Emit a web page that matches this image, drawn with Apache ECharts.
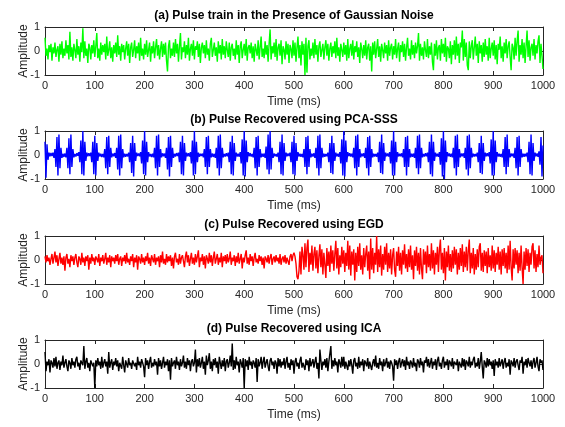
<!DOCTYPE html>
<html><head><meta charset="utf-8">
<script src="https://cdn.jsdelivr.net/npm/echarts/dist/echarts.min.js"></script>
<style>html,body{margin:0;padding:0;background:#fff}#c{width:565px;height:427px}</style>
</head><body><div id="c"></div>
<script>
// Panel titles
const panelTitles = [
  '(a) Pulse train in the Presence of Gaussian Noise',
  '(b) Pulse Recovered using PCA-SSS',
  '(c) Pulse Recovered using EGD',
  '(d) Pulse Recovered using ICA'
];
const xAxisName = 'Time (ms)';
const yAxisName = 'Amplitude';
const sampleStepMs = 2; // one value every 2 ms, 0..1000 ms

// (a) noisy pulse train (green)
const noisySignal = [
.55,-.2,.1,-.35,.25,-.05,.3,-.4,.15,-.1,
.35,-.25,.05,.2,-.45,.3,-.15,.4,-.3,.1,
-.2,.45,-.1,.25,-.35,.8,-.25,.15,-.4,.3,
.05,-.3,.5,-.15,.2,-.45,.35,-.05,.95,-.3,
.4,-.2,.1,-.5,.3,.15,-.35,.25,-.1,.45,
-.25,.2,.75,-.3,.1,-.4,.35,-.15,.25,-.05,
.3,-.35,.6,-.2,.05,.4,-.3,.15,-.45,.25,
-.1,.35,-.25,.65,-.15,.2,-.4,.3,-.05,.25,
-.35,.1,.4,-.2,.3,-.5,.15,.35,-.25,.05,
.45,-.3,.2,-.1,.35,-.4,.55,-.2,.1,-.35,
.3,-.15,.45,-.25,.05,.35,-.45,.2,-.1,.4,
-.3,.15,.5,-.2,.25,-.35,.1,.4,-.25,.3,
-.15,.35,-.4,-.85,.2,.45,-.3,.1,-.2,.35,
-.25,.5,-.1,.3,-.45,.2,.75,-.35,.15,-.05,
.4,-.3,.25,-.15,.55,-.4,.1,.3,-.2,.45,
-.35,.2,.05,.4,-.25,.3,-.5,.15,.35,-.1,
.25,-.3,.45,-.15,.1,-.4,.3,.55,-.25,.05,
.35,-.2,.15,-.45,.4,-.1,.25,-.35,.5,-.15,
.2,-.3,.4,.05,-.25,.35,-.4,.15,.3,-.2,
.1,-.35,.45,-.15,.25,-.5,.2,.4,-.3,.05,
.3,-.2,.5,-.4,.15,.25,-.1,.35,-.3,.2,
-.45,.3,.05,-.2,.45,-.35,.15,.6,-.25,.1,
-.3,.4,-.15,.25,-.45,.3,.9,-.35,.2,-.1,
.35,-.25,.5,-.4,.15,.3,-.2,.45,-.55,.2,
.05,-.35,.4,-.15,.3,-.5,.25,.1,-.3,.45,
-.2,.35,-.45,.15,.6,-.3,.25,-.6,.4,-.15,
.3,-1,.55,-.9,.2,.45,-.35,.1,-.2,.35,
-.3,.5,-.15,.25,-.45,.2,.4,-.25,.05,.3,
-.35,.15,.45,-.2,.3,-.4,.1,.35,-.25,.2,
-.1,.4,-.3,.55,-.2,.15,-.45,.3,.05,-.25,
.35,-.15,.25,-.4,.5,-.3,.1,.3,-.2,.45,
-.35,.2,-.05,.4,-.25,.15,-.5,.35,.1,-.3,
.25,-.2,.45,-.35,.15,.3,-.4,.2,-.85,.35,
-.15,.4,-.3,.1,.5,-.25,.2,-.45,.3,.05,
-.3,.35,-.1,.25,-.4,.45,-.2,.15,.3,-.35,
.2,-.15,.5,-.3,.1,.35,-.45,.25,-.05,.4,
-.25,.3,-.4,.15,.55,-.2,.1,-.35,.45,-.15,
.25,-.3,.35,-.1,.2,.75,-.4,.3,-.2,.15,
-.35,.4,.05,-.25,.5,-.3,.2,-.15,.35,-.45,
-.8,.3,-.2,.45,-.35,.15,.25,-.4,.5,-.1,
.3,-.25,.55,-.45,.2,.1,-.3,.4,-.55,.25,
-.15,.45,-.35,.6,-.2,.3,-.5,.35,.15,.85,
-.4,.5,-.25,.35,-.6,-.8,.4,-.3,.2,.45,
-.35,.15,.6,-.2,.3,-.5,.4,-.1,.25,-.45,
.35,-.25,.5,-.15,.2,-.4,.55,-.3,.1,.35,
-.2,.45,-.35,.25,-.55,.3,.05,.6,-.3,.2,
-.45,.35,-.1,.5,-.3,.2,.4,-.25,-.8,.3,
.15,-.35,.55,-.2,.4,.85,-.45,.25,-.15,.5,
-.3,.35,-.5,.2,.85,-.25,.45,-.4,.15,.3,
-.2,.5,-.35,.25,-.1,.4,.65,-.5,.3,-.2,
-.75
];

// (b) PCA-SSS recovered pulses (blue)
const pcaSignal = [
.55,-.95,.45,-.2,.1,-.05,.08,-.04,.1,-.12,
.25,-.5,.75,-.85,.85,-.55,.3,-.12,.05,-.08,
.06,-.1,.3,-.55,.7,-.8,.85,-.5,.25,-.1,
.04,-.06,.08,-.03,.12,-.3,.6,-.8,1,-.85,
.55,-.25,.1,-.05,.07,-.04,.1,-.3,.55,-.8,
.8,-.85,.5,-.25,.1,-.06,.05,-.08,.04,-.1,
.25,-.55,.75,-.8,.8,-.5,.3,-.1,.06,-.05,
.08,-.12,.3,-.6,.8,-.85,.85,-.55,.25,-.1,
.05,-.07,.04,-.06,.1,-.3,.5,-.75,.8,-.9,
.5,-.25,.1,-.04,.06,-.05,.12,-.35,.6,-.8,
1,-.85,.55,-.3,.12,-.06,.04,-.08,.05,-.1,
.3,-.55,.8,-.85,.85,-.5,.25,-.1,.07,-.05,
.06,-.12,.3,-.6,.75,-.9,.8,-.5,.3,-.12,
.05,-.06,.08,-.04,.1,-.3,.55,-.8,.8,-.85,
.5,-.25,.1,-.05,.07,-.06,.12,-.35,.6,-.85,
1,-.8,.55,-.3,.1,-.07,.05,-.04,.06,-.1,
.25,-.5,.75,-.8,.8,-.5,.25,-.1,.06,-.08,
.05,-.12,.3,-.55,.8,-.85,.85,-.55,.3,-.1,
.04,-.06,.07,-.05,.1,-.3,.55,-.8,.8,-.85,
.5,-.25,.1,-.06,.05,-.07,.12,-.35,.65,-.85,
1,-.9,.6,-.3,.12,-.05,.08,-.06,.04,-.1,
.3,-.55,.75,-.85,.8,-.5,.25,-.1,.05,-.07,
.06,-.12,.35,-.6,.85,-.8,1,-.6,.3,-.12,
.06,-.05,.04,-.07,.1,-.3,.55,-.8,.85,-.85,
.5,-.25,.1,-.05,.06,-.04,.1,-.3,.55,-.8,
.8,-.85,.5,-.25,.12,-.06,.05,-.07,.04,-.1,
.25,-.5,.75,-.8,.8,-.5,.25,-.1,.05,-.06,
.07,-.12,.3,-.55,.8,-.85,.85,-.55,.3,-.1,
.05,-.07,.04,-.05,.1,-.3,.5,-.75,.8,-.8,
.5,-.25,.1,-.06,.05,-.07,.12,-.35,.65,-.85,
1,-.9,.6,-.3,.12,-.05,.07,-.06,.05,-.1,
.3,-.55,.8,-.85,.85,-.5,.25,-.1,.06,-.05,
.07,-.12,.3,-.55,.75,-.85,.8,-.5,.25,-.1,
.05,-.06,.04,-.07,.1,-.3,.55,-.75,.85,-.8,
.5,-.25,.1,-.05,.06,-.06,.12,-.35,.6,-.85,
1,-.85,.55,-.3,.12,-.06,.05,-.05,.07,-.1,
.25,-.5,.75,-.85,.8,-.5,.25,-.1,.05,-.07,
.06,-.12,.3,-.55,.8,-.8,.85,-.55,.3,-.1,
.04,-.06,.07,-.05,.1,-.3,.55,-.8,.85,-.9,
.55,-.25,.1,-.06,.05,-.07,.12,-.4,.7,-.9,
1,-1,.6,-.3,.12,-.05,.06,-.07,.05,-.1,
.3,-.55,.8,-.85,.85,-.5,.25,-.1,.06,-.05,
.07,-.12,.3,-.6,.8,-.85,.85,-.55,.3,-.1,
.05,-.06,.04,-.06,.1,-.3,.5,-.75,.8,-.8,
.5,-.25,.1,-.05,.07,-.05,.12,-.35,.65,-.85,
1,-.85,.6,-.3,.12,-.06,.05,-.07,.04,-.1,
.25,-.5,.75,-.8,.85,-.5,.25,-.1,.06,-.05,
.06,-.12,.3,-.55,.75,-.85,.8,-.5,.25,-.1,
.05,-.07,.05,-.06,.1,-.3,.55,-.8,.85,-.85,
.5,-.25,.1,-.05,.06,-.07,.15,-.4,.75,-.9,
.4
];

// (c) EGD recovered signal (red)
const egdSignal = [
.15,-.1,.2,-.05,.1,-.2,.05,.25,-.15,.1,
.35,-.1,.2,-.25,.05,.3,-.15,.1,-.2,.15,
-.45,.1,.25,-.15,.05,-.3,.2,-.05,.15,-.2,
.1,.25,-.1,-.3,.15,.05,-.2,.3,-.1,.1,
-.25,.15,-.05,.2,-.4,.1,-.15,.25,-.05,.1,
-.2,.15,.05,-.1,.25,-.25,.1,-.05,.2,-.15,
.05,.3,-.2,.1,-.1,.2,-.3,.15,-.05,.1,
-.15,.2,-.05,.25,-.2,.05,.15,-.25,.1,-.05,
.2,-.15,.3,-.1,.05,-.2,.15,-.05,.25,-.3,
.1,-.1,.2,-.4,.15,.05,-.15,.25,-.1,.1,
-.2,.15,-.05,.3,-.15,.1,-.25,.2,.05,-.1,
.25,-.2,.1,-.05,.15,-.3,.2,-.1,.35,-.15,
.05,-.2,.25,-.1,.15,-.05,.2,-.25,.1,-.35,
.15,.3,-.1,.05,-.2,.25,-.15,.1,.2,-.05,
-.3,.15,.35,-.1,.2,-.25,.05,.3,-.15,.1,
-.2,.25,-.1,.15,.4,-.3,.1,-.05,.25,-.2,
.15,-.35,.2,.05,-.15,.3,-.1,.2,-.25,.1,
.35,-.15,.05,.25,-.2,.1,-.1,.3,-.3,.15,
-.05,.2,-.15,.25,-.1,.05,.35,-.2,.1,-.05,
.2,-.25,.15,-.1,.3,-.15,.05,.25,-.35,.1,
-.1,.2,.4,-.15,.1,-.2,.25,-.05,.15,-.25,
.1,.3,-.1,.05,-.15,.2,-.05,.15,-.2,.1,
-.35,.15,.05,-.1,.2,-.15,.1,.25,-.2,.05,
.15,-.1,.2,-.05,.1,-.15,.25,-.2,.05,.15,
-.1,.2,-.15,.1,.05,-.2,.15,.25,-.05,.2,
.3,.15,-.15,-.7,-.8,-.45,.35,-.6,.55,.2,
-.4,.7,-.3,.5,.85,-.5,.3,-.2,.6,-.45,
.25,.55,-.35,.4,-.55,.15,.65,-.3,.45,-.6,
.3,-.2,-.75,.5,-.25,.35,-.5,.6,-.15,.4,
-.45,.25,.8,-.35,.5,-.6,.2,-.3,.55,-.15,
.4,-.5,.3,-.25,.8,-.4,.6,-.65,.35,-.2,
.45,-.85,.3,-.5,.55,-.25,.7,-.4,.2,-.6,
.5,-.3,.25,.6,-.45,.35,-.8,.9,-.4,.5,
-.55,.3,-.2,1,-.5,.45,-.3,.6,-.65,.25,
-.4,.55,-.2,.7,-.5,.3,-.35,.45,-.6,.2,
.5,-.4,-.7,.35,-.25,.55,-.45,.3,-.6,.4,
-.2,.65,-.35,.25,-.5,.45,-.3,.6,-.4,.2,
-.8,.4,-.25,.55,-.45,.3,-.6,.5,-.35,-.8,
.45,-.2,.35,-.55,.6,-.3,.25,-.45,.7,-.35,
.4,-.6,.3,-.2,.55,-.5,.45,.85,-.4,.3,
-.55,.5,-.85,.35,-.3,.6,-.45,.25,-.5,.4,
-.35,.55,-.2,.45,-.6,.3,-.4,.5,-.25,.65,
-.5,.35,-.3,.55,-.45,.4,.85,-.55,.3,-.35,
.5,-.6,.25,-.4,.45,-.3,.55,.7,-.45,.3,
-.5,.4,-.25,.35,-.55,.5,-.3,.2,-.45,.6,
-.35,.4,-.5,.3,-.2,.55,-.4,.35,-.6,.45,
-.25,.5,-.35,.3,-.55,.6,-.4,.8,-.3,-.85,
.45,-.35,.5,-.2,.4,-.55,.3,-.45,.6,-.3,
-1,.35,-.4,.5,-.25,.45,-.5,.3,-.2,.55,
.7,-.35,.4,-.5,.25,-.3,.6,-.2,.1,.2,
-.55
];

// (d) ICA recovered signal (black)
const icaSignal = [
.5,-.3,.1,-.05,.2,-.35,.15,.05,-.15,.25,
-.1,.3,-.2,.05,.15,-.25,.1,-.05,.35,-.15,
.05,.2,-.1,-.3,.15,.05,-.2,.25,-.05,.1,
-.15,.2,.3,-.1,.05,-.25,.15,.1,-.05,.75,
-.2,.1,.25,-.15,.05,-.3,.15,.2,-.1,.05,
-1,.15,-.1,.25,-.05,.1,-.2,.3,-.15,.05,
.2,-.1,.1,-.4,.5,-.15,.05,.2,-.25,.1,
-.05,.25,-.1,.15,-.3,.05,.1,-.2,.3,-.05,
-.35,.15,.1,-.15,.25,-.05,.05,-.2,.15,.2,
-.1,.05,-.25,.3,-.05,.1,-.15,.2,.05,-.1,
-.55,.25,-.05,.15,-.2,.1,.3,-.15,.05,-.1,
.2,-.05,.1,-.45,.25,-.1,.15,-.2,.05,.3,
-.15,.1,-.05,.2,-.3,.15,-.65,.25,-.1,.05,
.15,-.2,.3,-.05,.1,-.25,.2,-.1,.05,.35,
-.15,.1,-.2,.25,-.05,.15,-.3,.1,.2,-.1,
.05,.6,-.35,.2,-.1,.25,-.15,.05,.3,-.2,
.1,-.45,.35,-.05,.15,.45,-.2,.1,-.3,.2,
-.05,.25,-.15,.1,-.4,.3,.05,-.2,.15,-.1,
.25,-.3,.1,.2,-.15,.05,.35,-.1,.85,-.25,
.15,-.2,.3,-.05,.1,-.35,.2,.05,-.15,.25,
-1,.2,-.1,.15,-.25,.3,-.05,.1,-.2,.15,
.05,-.15,.25,-.75,.2,-.1,.05,.3,-.2,.1,
.3,-.15,.05,.2,-.1,-.3,.15,.25,-.05,.1,
-.2,.15,.05,-.4,.25,-.1,.2,-.15,.1,-.05,
.25,-.2,.1,.3,-.15,.05,-.25,.2,-.05,.15,
-.4,.1,.25,-.1,.05,-.2,.15,.3,-.15,.05,
.1,-.25,.2,-.05,.15,-.3,.25,-.1,.05,.2,
-.15,.1,.3,-.2,.05,-.6,.6,.15,-.25,.1,
-.05,.2,-.15,.25,-.3,.1,.05,.75,-.2,.15,
-.1,.25,-.05,.1,-.35,.2,.05,-.15,.3,-.1,
.3,-.2,.1,.05,-.25,.15,-.1,.2,-.05,-.4,
.15,.25,-.1,.05,-.2,.3,-.15,.1,-.05,.2,
-.3,.15,.05,-.1,.25,-.2,.1,.15,-.25,.05,
.2,-.1,.35,-.15,.05,-.2,.25,-.05,.1,-.3,
.2,-.1,.05,.25,-.15,.1,-.2,.15,.05,-.1,
-.7,.2,-.05,.15,-.2,.1,.25,-.15,.05,.2,
-.1,.15,-.25,.3,-.05,.1,-.2,.15,.05,-.15,
.25,-.1,.05,-.3,.2,.1,-.15,.25,-.05,.1,
-.35,.15,.05,.3,-.1,.2,-.15,.05,.25,-.2,
.1,-.05,.2,-.25,.15,.3,-.1,.05,-.2,.15,
.3,-.15,.1,-.05,.2,-.25,.15,.05,-.1,.25,
-.2,.1,.15,-.05,.2,-.3,.1,.05,-.15,.25,
-.1,.2,-.25,.15,.05,-.1,.3,-.15,.1,-.05,
.2,.3,-.15,.05,-.1,.25,-.2,.1,.5,-.1,
-.6,.15,.05,-.15,.25,-.1,.2,-.05,.1,-.2,
.15,-.5,.2,-.05,.1,-.15,.25,-.1,.05,.2,
-.2,.1,.25,-.15,.05,-.1,.2,-.45,.15,.05,
-.1,.25,-.15,.1,.2,-.05,-.25,.15,.05,.3,
-.4,.1,-.05,.2,-.15,.25,.05,-.1,.15,-.2,
.1,.25,-.15,.05,.3,-.1,-.3,.2,.05,.15,
-.25
];

const signals = [noisySignal, pcaSignal, egdSignal, icaSignal];
const lineColors = ['#00ff00', '#0000ff', '#ff0000', '#000000'];
const xMin = 0, xMax = 1000, xStep = 100;
const yMin = -1, yMax = 1, yStep = 1;

const FONT = '"Liberation Sans", Arial, Helvetica, sans-serif';
const gridTops = [27, 131, 236, 340];
const gridHeight = 48;
const AX = '#262626';

const grids = [], xAxes = [], yAxes = [], series = [], titles = [];
signals.forEach((vals, i) => {
  grids.push({left: 45, right: 22, top: gridTops[i], height: gridHeight, show: false});
  titles.push({
    text: panelTitles[i], left: 294, top: gridTops[i] - 17, textAlign: 'center', padding: 0,
    textStyle: {fontSize: 12, fontWeight: 'bold', color: '#000', fontFamily: FONT}
  });
  const common = {
    gridIndex: i, type: 'value', splitLine: {show: false},
    axisLine: {show: true, onZero: false, lineStyle: {color: AX, width: 1}},
    axisTick: {show: true, inside: true, length: 4, lineStyle: {color: AX, width: 1}}
  };
  xAxes.push(Object.assign({}, common, {
    position: 'bottom', min: xMin, max: xMax, interval: xStep,
    axisLabel: {fontSize: 11, color: AX, margin: 5, fontFamily: FONT, formatter: v => String(v)},
    name: xAxisName, nameLocation: 'middle', nameGap: 21, nameMoveOverlap: false,
    nameTextStyle: {fontSize: 12, color: AX, fontFamily: FONT}
  }));
  xAxes.push(Object.assign({}, common, {
    position: 'top', min: xMin, max: xMax, interval: xStep, axisLabel: {show: false}
  }));
  yAxes.push(Object.assign({}, common, {
    position: 'left', min: yMin, max: yMax, interval: yStep,
    axisLabel: {fontSize: 11, color: AX, margin: 5, fontFamily: FONT, formatter: v => String(v)},
    name: yAxisName, nameLocation: 'middle', nameGap: 15, nameRotate: 90, nameMoveOverlap: false,
    nameTextStyle: {fontSize: 12, color: AX, fontFamily: FONT}
  }));
  yAxes.push(Object.assign({}, common, {
    position: 'right', min: yMin, max: yMax, interval: yStep, axisLabel: {show: false}
  }));
  series.push({
    type: 'line', xAxisIndex: 2 * i, yAxisIndex: 2 * i,
    data: vals.map((v, j) => [j * sampleStepMs, v]),
    showSymbol: false, symbol: 'none', clip: true,
    lineStyle: {color: lineColors[i], width: 1.4}, itemStyle: {color: lineColors[i]},
    emphasis: {disabled: true}
  });
});

const chart = echarts.init(document.getElementById('c'), null, {renderer: 'canvas'});
chart.setOption({
  animation: false, backgroundColor: '#fff',
  title: titles, grid: grids, xAxis: xAxes, yAxis: yAxes, series: series
});
</script>
</body></html>
